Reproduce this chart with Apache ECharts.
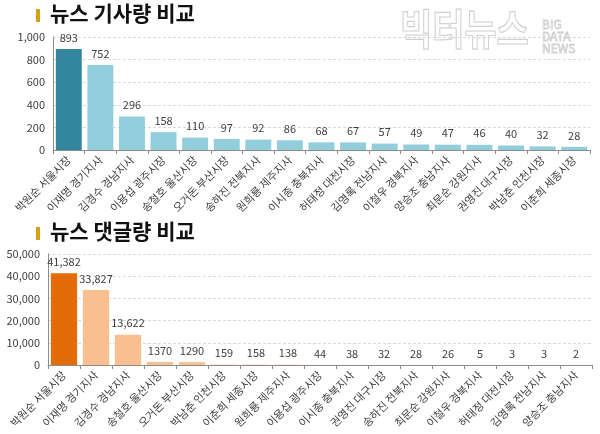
<!DOCTYPE html>
<html><head><meta charset="utf-8">
<script src="https://cdn.jsdelivr.net/npm/echarts@6/dist/echarts.min.js"></script>
<style>html,body{margin:0;padding:0;background:#fff}#c{width:600px;height:434px}</style>
</head><body><div id="c"></div>
<script>
const articleCats = ['박원순 서울시장','이재명 경기지사','김경수 경남지사','이용섭 광주시장','송철호 울산시장','오거돈 부산시장','송하진 전북지사','원희룡 제주지사','이시종 충북지사','허태정 대전시장','김영록 전남지사','이철우 경북지사','양승조 충남지사','최문순 강원지사','권영진 대구시장','박남춘 인천시장','이춘희 세종시장'];
const articleVals = [893,752,296,158,110,97,92,86,68,67,57,49,47,46,40,32,28];
const commentCats = ['박원순 서울시장','이재명 경기지사','김경수 경남지사','송철호 울산시장','오거돈 부산시장','박남춘 인천시장','이춘희 세종시장','원희룡 제주지사','이용섭 광주시장','이시종 충북지사','권영진 대구시장','송하진 전북지사','최문순 강원지사','이철우 경북지사','허태정 대전시장','김영록 전남지사','양승조 충남지사'];
const commentVals = [41382,33827,13622,1370,1290,159,158,138,44,38,32,28,26,5,3,3,2];
const commentLabels = ['41,382','33,827','13,622','1370','1290','159','158','138','44','38','32','28','26','5','3','3','2'];
const articleTicks = {min:0,max:1000,interval:200};
const commentTicks = {min:0,max:50000,interval:10000};

const FONT = '"Noto Sans CJK KR","Noto Sans",sans-serif';
const chart = echarts.init(document.getElementById('c'), null, {renderer:'canvas'});

function colorize(vals, first, rest){
  return vals.map((v,i)=>({value:v, itemStyle:{color: i===0?first:rest}}));
}
function xAxis(cats, gi){
  return {type:'category', gridIndex:gi, data:cats,
    axisLine:{lineStyle:{color:'#8c8c8c'}},
    axisTick:{show:true, alignWithLabel:false, length:4, lineStyle:{color:'#8c8c8c'}},
    axisLabel:{rotate:45, interval:0, fontSize:11, color:'#404040', fontFamily:FONT, margin:8}};
}
function yAxis(t, gi, fmt){
  return {type:'value', gridIndex:gi, min:t.min, max:t.max, interval:t.interval,
    axisLine:{show:true, lineStyle:{color:'#8c8c8c'}},
    axisTick:{show:false},
    splitLine:{lineStyle:{color:'#d9d9d9', type:[3,2]}},
    axisLabel:{fontSize:11, color:'#404040', fontFamily:FONT, margin:8, formatter:fmt}};
}
const fmtComma = v => v.toLocaleString('en-US');

chart.setOption({
  animation:false,
  graphic:[
    {type:'rect', shape:{x:36,y:9,width:4,height:13}, style:{fill:'#d4a017'}},
    {type:'text', left:50, top:3, style:{text:'뉴스 기사량 비교', font:'bold 21px '+FONT, fill:'#111'}},
    {type:'rect', shape:{x:36,y:227,width:4,height:13}, style:{fill:'#d4a017'}},
    {type:'text', left:50, top:221, style:{text:'뉴스 댓글량 비교', font:'bold 21px '+FONT, fill:'#111'}},
    {type:'text', x:400, y:8, scaleX:1, scaleY:1.2, z:100, style:{text:'빅터뉴스', font:'bold 35px '+FONT, fill:'rgba(255,255,255,0)', stroke:'#d0d0d0', lineWidth:1}},
    {type:'text', x:542, y:18, z:100, style:{text:'BIG\nDATA\nNEWS', font:'12px '+FONT, lineHeight:12, fill:'rgba(255,255,255,0)', stroke:'#d0d0d0', lineWidth:0.8}}
  ],
  grid:[
    {left:53, right:10, top:37, bottom:284},
    {left:48, right:8, top:254, bottom:69}
  ],
  xAxis:[xAxis(articleCats,0), xAxis(commentCats,1)],
  yAxis:[yAxis(articleTicks,0,fmtComma), yAxis(commentTicks,1,fmtComma)],
  series:[
    {type:'bar', xAxisIndex:0, yAxisIndex:0, barCategoryGap:'18%',
     data:colorize(articleVals,'#31859c','#92cddc'),
     label:{show:true, position:'top', distance:6, fontSize:11, color:'#404040', fontFamily:FONT}},
    {type:'bar', xAxisIndex:1, yAxisIndex:1, barCategoryGap:'18%',
     data:colorize(commentVals,'#e36c09','#fabf8f'),
     label:{show:true, position:'top', distance:6, fontSize:11, color:'#404040', fontFamily:FONT,
       formatter:p=>commentLabels[p.dataIndex]}}
  ]
});
</script></body></html>
